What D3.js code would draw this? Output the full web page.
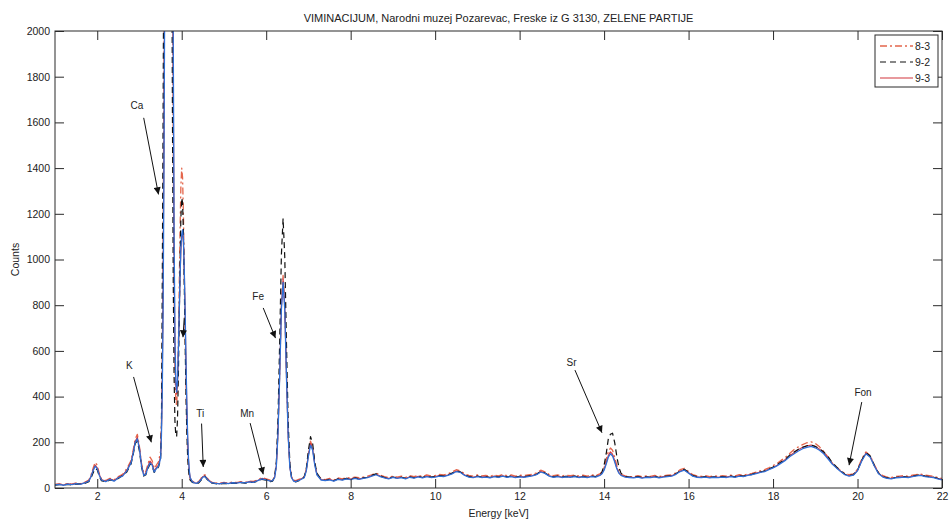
<!DOCTYPE html>
<html>
<head>
<meta charset="utf-8">
<script src="https://d3js.org/d3.v7.min.js"></script>
<style>
  body { margin: 0; background: #fff; }
  text { font-family: "Liberation Sans", Arial, sans-serif; fill: #222; }
</style>
</head>
<body>
<div id="chart"></div>
<script>
// energy grid (keV), finer around the big peaks
const energy = [
  1.0,1.1,1.2,1.3,1.4,1.5,1.6,1.7,
  1.8,1.85,1.9,1.95,2.0,2.05,2.1,2.2,
  2.3,2.4,2.5,2.6,2.7,2.8,2.85,2.9,2.95,3.0,
  3.05,3.1,3.15,3.2,3.25,3.3,3.35,3.4,3.45,3.5,
  3.52,3.54,3.56,3.58,3.6,3.62,3.64,3.66,3.68,3.7,
  3.72,3.74,3.76,3.78,3.8,3.82,3.84,3.86,3.88,3.9,
  3.92,3.94,3.96,3.98,4.0,4.02,4.04,4.06,4.08,4.1,
  4.12,4.14,4.16,4.18,4.2,4.25,4.3,4.35,4.4,4.45,
  4.5,4.55,4.6,4.65,4.7,4.8,4.9,5.0,5.1,5.2,
  5.3,5.4,5.5,5.6,5.7,5.8,5.9,6.0,6.1,6.15,
  6.2,6.24,6.28,6.32,6.36,6.4,6.44,6.48,6.52,6.56,
  6.6,6.65,6.7,6.8,6.9,6.95,7.0,7.05,7.1,7.15,
  7.2,7.3,7.4,7.5,7.6,7.7,7.8,7.9,8.0,8.1,
  8.2,8.3,8.4,8.5,8.6,8.7,8.8,8.9,9.0,9.1,
  9.2,9.3,9.4,9.5,9.6,9.7,9.8,9.9,10.0,10.1,
  10.2,10.3,10.4,10.5,10.6,10.7,10.8,10.9,11.0,11.1,
  11.2,11.3,11.4,11.5,11.6,11.7,11.8,11.9,12.0,12.1,
  12.2,12.3,12.4,12.5,12.6,12.7,12.8,12.9,13.0,13.1,
  13.2,13.3,13.4,13.5,13.6,13.7,13.8,13.9,13.95,14.0,
  14.05,14.1,14.15,14.2,14.25,14.3,14.35,14.4,14.5,14.6,
  14.7,14.8,14.9,15.0,15.1,15.2,15.3,15.4,15.5,15.6,
  15.7,15.8,15.9,16.0,16.1,16.2,16.3,16.4,16.5,16.6,
  16.7,16.8,16.9,17.0,17.1,17.2,17.3,17.4,17.5,17.6,
  17.7,17.8,17.9,18.0,18.1,18.2,18.3,18.4,18.5,18.6,
  18.7,18.8,18.9,19.0,19.1,19.2,19.3,19.4,19.5,19.6,
  19.7,19.8,19.9,20.0,20.1,20.2,20.3,20.4,20.5,20.6,
  20.7,20.8,20.9,21.0,21.1,21.2,21.3,21.4,21.5,21.6,
  21.7,21.8,21.9,22.0
];

// sample 8-3 (dash-dot)
const counts83 = [
  16,18,15,19,17,22,19,25,
  35,55,85,112,100,62,40,32,
  42,36,50,60,85,120,165,215,235,180,
  105,65,72,105,135,120,85,100,115,160,
  280,550,1050,1800,2800,4100,5600,6900,7700,7700,
  6900,5500,3900,2500,1500,850,520,380,360,440,
  620,860,1120,1320,1400,1360,1200,960,700,470,
  290,170,95,58,40,30,25,23,28,40,
  55,58,45,33,27,23,21,25,22,26,
  24,28,25,30,29,36,45,40,34,36,
  50,100,250,510,805,930,800,505,240,95,
  50,35,32,40,50,82,150,205,178,108,
  62,40,37,42,35,44,40,46,43,48,
  45,48,52,58,66,56,50,46,52,48,
  52,46,54,50,56,51,57,53,55,59,
  57,62,70,80,75,62,55,52,57,53,
  55,51,57,53,59,54,57,52,56,54,
  57,60,66,78,71,59,54,57,53,56,
  54,57,53,56,52,57,55,62,70,90,
  125,160,175,165,135,100,72,60,53,50,
  50,54,49,53,51,55,50,54,56,58,
  66,80,86,72,58,53,51,54,50,53,
  51,54,52,56,53,58,56,61,64,70,
  75,80,88,98,108,122,136,152,168,180,
  190,198,202,195,180,160,136,110,92,76,
  64,58,62,82,128,158,142,100,68,54,
  48,46,50,52,54,51,56,59,61,56,
  54,51,46,42
];

// sample 9-2 (dashed)
const counts92 = [
  13,15,14,16,13,18,17,20,
  28,42,65,85,80,50,32,26,
  35,32,42,55,70,105,145,195,205,160,
  90,52,58,85,105,95,68,80,92,125,
  270,900,1650,2600,3800,5200,6600,7700,7900,7200,
  5900,4300,2800,1650,900,480,290,230,225,300,
  480,720,980,1180,1270,1250,1120,900,650,420,
  250,140,80,50,35,25,20,18,22,32,
  45,52,38,28,22,19,17,20,18,21,
  20,23,21,25,24,30,38,34,28,30,
  48,115,305,645,1020,1180,1010,635,295,108,
  46,30,27,34,48,85,165,225,195,115,
  65,38,33,38,32,40,36,42,38,44,
  40,44,47,55,62,53,46,42,48,44,
  47,42,49,45,51,46,52,48,50,54,
  52,57,65,75,70,57,50,47,52,48,
  50,46,52,48,54,49,52,47,51,49,
  52,55,60,73,66,54,49,52,48,51,
  49,52,48,51,47,52,50,58,70,100,
  150,215,235,240,200,140,90,65,50,48,
  46,50,45,49,47,51,46,50,52,54,
  62,75,82,68,54,49,47,50,46,49,
  47,50,48,52,49,54,52,57,60,66,
  70,75,83,92,102,115,128,145,158,170,
  178,185,188,182,172,158,138,112,92,76,
  60,54,58,78,122,155,140,98,64,50,
  44,42,46,48,50,47,52,55,57,52,
  50,47,42,38
];

// sample 9-3 (solid)
const counts93 = [
  15,17,13,18,16,20,17,23,
  32,50,78,100,88,58,37,30,
  40,33,47,55,78,115,155,205,222,175,
  100,58,64,95,118,106,75,90,100,140,
  250,460,880,1550,2500,3650,5150,6600,7700,8000,
  7400,6100,4500,2900,1800,1020,620,450,410,460,
  590,750,910,1040,1100,1115,1075,950,770,560,
  370,225,128,74,45,29,23,21,26,37,
  50,53,42,31,25,21,19,23,20,24,
  22,26,23,28,26,33,42,37,31,33,
  47,98,245,500,790,915,790,490,232,92,
  47,32,30,37,47,78,145,195,170,104,
  60,37,34,38,32,40,36,42,39,44,
  40,44,47,54,60,52,46,42,48,44,
  47,42,49,45,51,46,52,48,50,54,
  52,57,64,74,70,57,50,47,52,48,
  50,46,52,48,54,49,52,47,51,49,
  52,55,60,72,66,54,49,52,48,51,
  49,52,48,51,47,52,50,57,65,82,
  110,142,158,148,120,88,67,57,50,48,
  46,50,45,49,47,51,46,50,52,54,
  62,74,80,67,54,49,47,50,46,49,
  47,50,48,52,49,54,52,57,60,65,
  70,74,82,90,100,113,126,142,155,168,
  178,184,188,182,170,155,132,108,90,74,
  60,54,58,77,120,153,138,97,64,50,
  44,42,46,48,50,47,52,55,57,52,
  50,47,42,38
];

// extra spectrum drawn in blue (not in the legend)
const countsBlue = [
  14,16,12,17,15,19,16,22,
  30,48,75,95,85,55,35,28,
  38,30,45,52,75,110,150,200,215,170,
  95,55,60,90,110,100,70,85,95,130,
  230,420,800,1400,2300,3400,4900,6400,7600,8000,
  7500,6300,4700,3100,1950,1100,650,470,420,470,
  600,760,920,1050,1110,1130,1090,960,780,570,
  380,230,130,75,45,28,22,20,25,35,
  48,50,40,30,24,20,18,22,19,23,
  21,25,22,27,25,32,40,36,30,32,
  45,95,240,495,780,900,780,485,230,90,
  45,30,28,35,45,75,140,188,165,100,
  58,35,32,36,30,38,34,40,37,42,
  38,42,45,52,58,50,44,40,46,42,
  45,40,47,43,49,44,50,46,48,52,
  50,55,62,72,68,55,48,45,50,46,
  48,44,50,46,52,47,50,45,49,47,
  50,53,58,70,64,52,47,50,46,49,
  47,50,46,49,45,50,48,55,62,78,
  105,135,150,140,115,85,65,55,48,46,
  44,48,43,47,45,49,44,48,50,52,
  60,72,78,65,52,47,45,48,44,47,
  45,48,46,50,47,52,50,55,58,63,
  68,72,80,88,98,110,122,138,150,162,
  172,178,182,176,165,150,128,105,88,72,
  58,52,56,75,118,150,135,95,62,48,
  42,40,44,46,48,45,50,53,55,50,
  48,45,40,36
];

const xTicks = [2,4,6,8,10,12,14,16,18,20,22];
const yTicks = [0,200,400,600,800,1000,1200,1400,1600,1800,2000];
const legendNames = ["8-3","9-2","9-3"];

// element labels: text position, arrow start and arrow tip (keV, counts)
const notes = [
  { label: "Ca", tx: 2.94, ty: 1676, x1: 3.10, y1: 1620, x2: 3.45, y2: 1285 },
  { label: "K",  tx: 2.76, ty: 538,  x1: 2.86, y1: 486,  x2: 3.28, y2: 200 },
  { label: "Ti", tx: 4.44, ty: 328,  x1: 4.47, y1: 282,  x2: 4.51, y2: 92 },
  { label: "Mn", tx: 5.55, ty: 328,  x1: 5.62, y1: 284,  x2: 5.93, y2: 60 },
  { label: "Fe", tx: 5.81, ty: 836,  x1: 5.93, y1: 788,  x2: 6.22, y2: 656 },
  { label: "Sr", tx: 13.23, ty: 551, x1: 13.31, y1: 516, x2: 13.95, y2: 242 },
  { label: "Fon", tx: 20.13, ty: 416, x1: 20.10, y1: 376, x2: 19.80, y2: 100 },
  { label: "",   tx: 0, ty: 0,       x1: 4.06, y1: 745,  x2: 4.03, y2: 660 }
];

const W = 949, H = 519;
const margin = { top: 31, right: 7, bottom: 31, left: 55 };
const iw = W - margin.left - margin.right,
      ih = H - margin.top - margin.bottom;

const svg = d3.select("#chart").append("svg")
    .attr("width", W)
    .attr("height", H);

svg.append("defs").append("clipPath").attr("id", "clip")
  .append("rect").attr("width", iw).attr("height", ih);

svg.append("defs").append("marker")
    .attr("id", "head")
    .attr("viewBox", "0 0 10 10")
    .attr("refX", 10).attr("refY", 5)
    .attr("markerWidth", 9).attr("markerHeight", 7)
    .attr("markerUnits", "userSpaceOnUse")
    .attr("orient", "auto")
  .append("path").attr("d", "M0,0L10,5L0,10z").attr("fill", "#111");

const g = svg.append("g").attr("transform", `translate(${margin.left},${margin.top})`);

const x = d3.scaleLinear().domain([1, 22]).range([0, iw]);
const y = d3.scaleLinear().domain([0, 2000]).range([ih, 0]);

// title and axis labels
svg.append("text")
    .attr("x", margin.left + iw / 2).attr("y", 22)
    .attr("text-anchor", "middle")
    .style("font-size", "11px")
    .text("VIMINACIJUM, Narodni muzej Pozarevac, Freske iz G 3130, ZELENE PARTIJE");

svg.append("text")
    .attr("x", margin.left + iw / 2).attr("y", 517)
    .attr("text-anchor", "middle")
    .style("font-size", "10.5px")
    .text("Energy [keV]");

svg.append("text")
    .attr("transform", `translate(19,${margin.top + ih / 2}) rotate(-90)`)
    .attr("text-anchor", "middle")
    .style("font-size", "10.5px")
    .text("Counts");

// spectra
const series = [
  { name: "8-3", values: counts83, color: "#e4664c", dash: "7,3,2,3", w: 1.3 },
  { name: "9-3", values: counts93, color: "#d2343c", dash: null, w: 1.1 },
  { name: "9-2", values: counts92, color: "#111", dash: "6,4", w: 1.2 },
  { name: "",    values: countsBlue, color: "#2f6fd6", dash: null, w: 1.3 }
];

const line = d3.line()
    .x(d => x(d[0]))
    .y(d => y(d[1]));

const plot = g.append("g").attr("clip-path", "url(#clip)");

series.forEach(s => {
  plot.append("path")
      .datum(energy.map((e, i) => [e, s.values[i]]))
      .attr("fill", "none")
      .attr("stroke", s.color)
      .attr("stroke-width", s.w)
      .attr("stroke-dasharray", s.dash)
      .attr("stroke-linejoin", "round")
      .attr("d", line);
});

// axes, matlab style: ticks pointing inwards on all four sides
const tickLen = 9;
const axisColor = "#2a2a2a";
const fmt = d3.format("d");

const xb = g.append("g").attr("transform", `translate(0,${ih})`)
    .call(d3.axisBottom(x).tickValues(xTicks).tickFormat(fmt).tickSizeInner(-tickLen).tickSizeOuter(0).tickPadding(5));
const xt = g.append("g")
    .call(d3.axisTop(x).tickValues(xTicks).tickSizeInner(-tickLen).tickSizeOuter(0).tickFormat(""));
const yl = g.append("g")
    .call(d3.axisLeft(y).tickValues(yTicks).tickFormat(fmt).tickSizeInner(-tickLen).tickSizeOuter(0).tickPadding(5));
const yr = g.append("g").attr("transform", `translate(${iw},0)`)
    .call(d3.axisRight(y).tickValues(yTicks).tickSizeInner(-tickLen).tickSizeOuter(0).tickFormat(""));

[xb, xt, yl, yr].forEach(a => {
  a.select(".domain").remove();
  a.selectAll(".tick line").attr("stroke", axisColor);
  a.selectAll(".tick text")
      .style("font-family", "'Liberation Sans', Arial, sans-serif")
      .style("font-size", "10.5px")
      .attr("fill", "#222");
});

g.append("rect")
    .attr("width", iw).attr("height", ih)
    .attr("fill", "none")
    .attr("stroke", axisColor)
    .attr("stroke-width", 1);

// annotations
const ann = g.append("g");
notes.forEach(n => {
  ann.append("line")
      .attr("x1", x(n.x1)).attr("y1", y(n.y1))
      .attr("x2", x(n.x2)).attr("y2", y(n.y2))
      .attr("stroke", "#111")
      .attr("stroke-width", 1)
      .attr("marker-end", "url(#head)");
  if (n.label) {
    const t = ann.append("text")
        .attr("x", x(n.tx)).attr("y", y(n.ty))
        .attr("text-anchor", "middle")
        .attr("dy", "0.35em")
        .style("font-size", "10px")
        .text(n.label);
    const bb = t.node().getBBox();
    ann.insert("rect", "text")
        .attr("x", bb.x - 2).attr("y", bb.y - 1)
        .attr("width", bb.width + 4).attr("height", bb.height + 2)
        .attr("fill", "#fff");
  }
});

// legend
const lg = svg.append("g").attr("transform", "translate(875,35)");
lg.append("rect")
    .attr("width", 63).attr("height", 52)
    .attr("fill", "#fff")
    .attr("stroke", axisColor);

const legendSeries = legendNames.map(nm => series.find(s => s.name === nm));
legendSeries.forEach((s, i) => {
  const ly = 11 + i * 16;
  lg.append("line")
      .attr("x1", 5).attr("x2", 38)
      .attr("y1", ly).attr("y2", ly)
      .attr("stroke", s.color)
      .attr("stroke-width", s.w)
      .attr("stroke-dasharray", s.dash);
  lg.append("text")
      .attr("x", 40).attr("y", ly)
      .attr("dy", "0.35em")
      .style("font-size", "10.5px")
      .text(s.name);
});
</script>
</body>
</html>
